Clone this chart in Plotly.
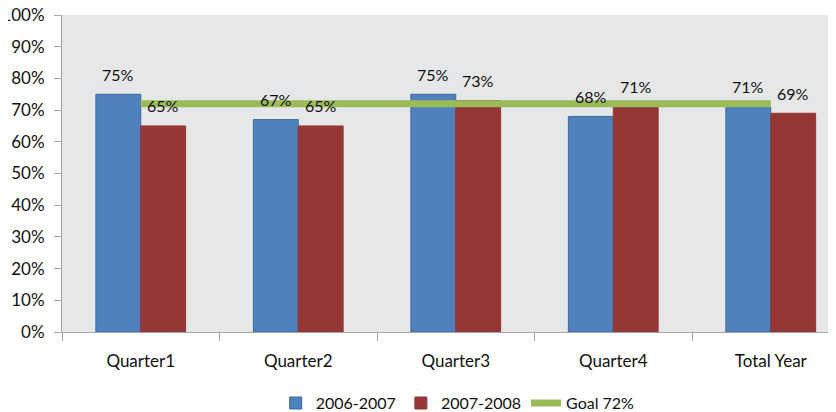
import plotly.graph_objects as go

categories = ["Quarter1", "Quarter2", "Quarter3", "Quarter4", "Total Year"]
s2006 = [0.75, 0.67, 0.75, 0.68, 0.71]
s2007 = [0.65, 0.65, 0.73, 0.71, 0.69]
goal = [0.72, 0.72, 0.72, 0.72, 0.72]

FONT = "Lato"

fig = go.Figure()
fig.add_trace(go.Bar(
    x=categories, y=s2006, name="2006-2007",
    marker=dict(color="#4F81BD", line=dict(color="#3C6A9E", width=1)),
))
fig.add_trace(go.Bar(
    x=categories, y=s2007, name="2007-2008",
    marker=dict(color="#953735", line=dict(color="#953735", width=1)),
))
fig.add_trace(go.Scatter(
    x=categories, y=goal, name="Goal 72%", mode="lines",
    line=dict(color="#9BBB59", width=7),
))

# value labels above each bar
for series, shift in ((s2006, -22.5), (s2007, 22.5)):
    for cat, v in zip(categories, series):
        fig.add_annotation(
            x=cat, y=v, xref="x", yref="y", text=f"{v*100:.0f}%",
            showarrow=False, xshift=shift, yshift=20,
            font=dict(size=16, color="#111111", family=FONT),
        )

fig.update_layout(
    width=836, height=404,
    margin=dict(l=54, r=0, t=7, b=80),
    paper_bgcolor="white", plot_bgcolor="#E6E7E8",
    barmode="group", bargap=0.43, bargroupgap=0,
    font=dict(family=FONT, size=15, color="#111111"),
    showlegend=True,
    legend=dict(orientation="h", x=0.506, xanchor="center",
                yref="container", y=0.022, yanchor="middle",
                font=dict(size=16), traceorder="normal"),
)
fig.update_xaxes(
    range=[-0.5, 4.465],
    showgrid=False, showline=True, linecolor="#A6A6A6", linewidth=1,
    ticks="outside", tickson="boundaries", ticklen=8, tickcolor="#A6A6A6",
    ticklabelstandoff=14, tickfont=dict(size=17), automargin=False,
)
fig.update_yaxes(
    range=[0, 1], dtick=0.1, tickformat=".0%", showgrid=False,
    showline=True, linecolor="#A6A6A6", linewidth=1,
    ticks="outside", ticklen=7, tickcolor="#A6A6A6", ticklabelstandoff=6,
    ticklabeloverflow="allow",
    automargin=False, tickfont=dict(size=17), zeroline=False,
)

fig.write_html("out.html")
